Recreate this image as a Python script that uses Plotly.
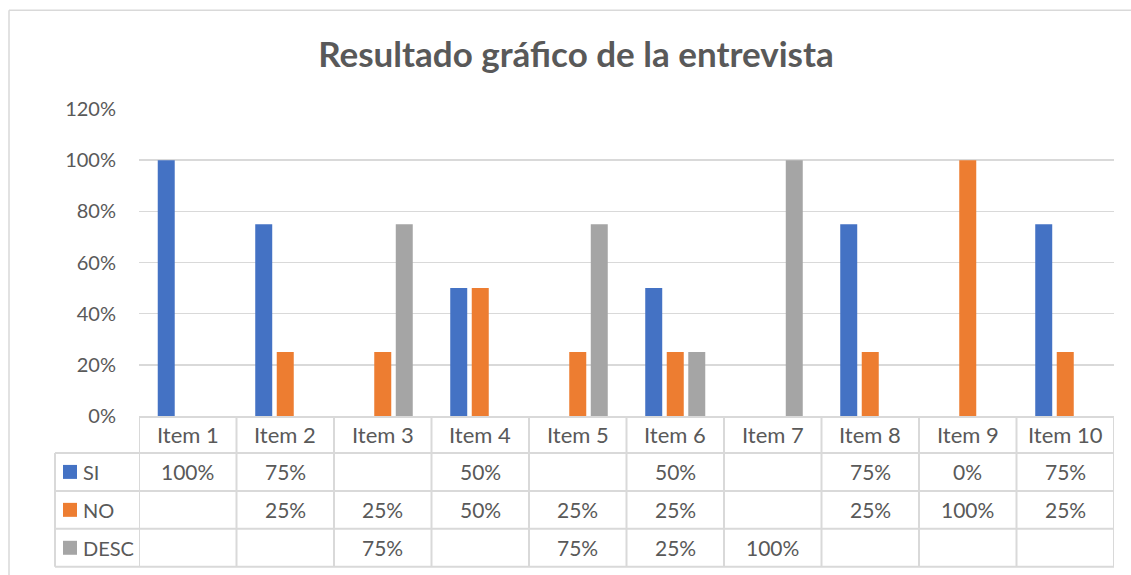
import plotly.graph_objects as go

categories = ["Item 1", "Item 2", "Item 3", "Item 4", "Item 5",
              "Item 6", "Item 7", "Item 8", "Item 9", "Item 10"]
si = [1.00, 0.75, None, 0.50, None, 0.50, None, 0.75, 0.00, 0.75]
no = [None, 0.25, 0.25, 0.50, 0.25, 0.25, None, 0.25, 1.00, 0.25]
desc = [None, None, 0.75, None, 0.75, 0.25, 1.00, None, None, None]
series_names = ["SI", "NO", "DESC"]
series_values = [si, no, desc]
colors = ["#4472C4", "#ED7D31", "#A5A5A5"]
y_ticks = [0, 0.2, 0.4, 0.6, 0.8, 1.0, 1.2]
y_tick_labels = ["0%", "20%", "40%", "60%", "80%", "100%", "120%"]

W, H = 1131, 575
PL, PR, PT, PB = 139, 1114, 109, 416.5  # plot area in pixels
ML, MT, MR, MB = PL, PT, W - PR, H - PB
PW, PH = PR - PL, PB - PT
FONT = "Lato"
TXT = "#595959"
LINE = "#D9D9D9"


def px(xs):
    return (xs - PL) / PW


def py(ys):
    return (PB - ys) / PH


fig = go.Figure()
for name, vals, col in zip(series_names, series_values, colors):
    fig.add_trace(go.Bar(x=categories, y=vals, name=name, marker_color=col,
                         marker_line_width=0, showlegend=False, hoverinfo="skip"))

row_edges = [416.5, 453.5, 491.5, 529.5, 567.5]
legend_left = 55

shapes = []
n = len(categories)
for i in range(n + 1):
    shapes.append(dict(type="line", xref="x", yref="paper",
                       x0=i - 0.5, x1=i - 0.5, y0=py(row_edges[0]), y1=py(row_edges[-1]),
                       line=dict(color=LINE, width=2)))
shapes.append(dict(type="line", xref="paper", yref="paper",
                   x0=px(legend_left), x1=px(legend_left), y0=py(row_edges[1]), y1=py(row_edges[-1]),
                   line=dict(color=LINE, width=2)))
for k, ye in enumerate(row_edges):
    if k == 0:
        continue
    shapes.append(dict(type="line", xref="paper", yref="paper",
                       x0=px(legend_left), x1=1, y0=py(ye), y1=py(ye),
                       line=dict(color=LINE, width=2)))
# outer chart border (left + top)
shapes.append(dict(type="line", xref="paper", yref="paper",
                   x0=px(9), x1=px(9), y0=py(10), y1=py(H + 5),
                   line=dict(color=LINE, width=1.5)))
shapes.append(dict(type="line", xref="paper", yref="paper",
                   x0=px(9), x1=px(W + 5), y0=py(10), y1=py(10),
                   line=dict(color=LINE, width=1.5)))

annotations = []
for i, c in enumerate(categories):
    annotations.append(dict(x=i, y=py((row_edges[0] + row_edges[1]) / 2), xref="x", yref="paper",
                            text=c, showarrow=False, font=dict(family=FONT, size=22, color=TXT),
                            xanchor="center", yanchor="middle"))
for r, (name, vals, col) in enumerate(zip(series_names, series_values, colors)):
    yc = (row_edges[r + 1] + row_edges[r + 2]) / 2
    shapes.append(dict(type="rect", xref="paper", yref="paper",
                       x0=px(63), x1=px(77), y0=py(yc - 7), y1=py(yc + 7),
                       fillcolor=col, line=dict(width=0)))
    annotations.append(dict(x=px(81), y=py(yc), xref="paper", yref="paper", text=name,
                            showarrow=False, font=dict(family=FONT, size=20, color=TXT),
                            xanchor="left", yanchor="middle"))
    for i, v in enumerate(vals):
        if v is None:
            continue
        annotations.append(dict(x=i, y=py(yc), xref="x", yref="paper",
                                text=f"{round(v * 100)}%", showarrow=False,
                                font=dict(family=FONT, size=21, color=TXT),
                                xanchor="center", yanchor="middle"))

fig.update_layout(
    width=W, height=H,
    margin=dict(l=ML, r=MR, t=MT, b=MB),
    paper_bgcolor="white", plot_bgcolor="white",
    title=dict(text="<b>Resultado gráfico de la entrevista</b>", x=576 / W, xanchor="center",
               y=1 - 55 / H, yanchor="middle", yref="container",
               font=dict(family=FONT, size=35, color=TXT)),
    barmode="group", bargap=0.338, bargroupgap=0.21,
    xaxis=dict(showticklabels=False, showgrid=False, showline=True, linecolor=LINE,
               linewidth=2, ticks="", range=[-0.5, n - 0.5], fixedrange=True),
    yaxis=dict(range=[0, 1.2], tickvals=y_ticks, ticktext=y_tick_labels,
               showgrid=True, gridcolor=LINE, gridwidth=1.5, zeroline=False,
               showline=False, ticks="", ticklabelstandoff=22, fixedrange=True,
               tickfont=dict(family=FONT, size=20, color=TXT)),
    shapes=shapes, annotations=annotations,
    showlegend=False,
)

fig.write_html("out.html",
               config={"displayModeBar": False, "staticPlot": True},
               post_script="document.documentElement.style.overflow='hidden';"
                           "document.body.style.margin='0';document.body.style.overflow='hidden';")
